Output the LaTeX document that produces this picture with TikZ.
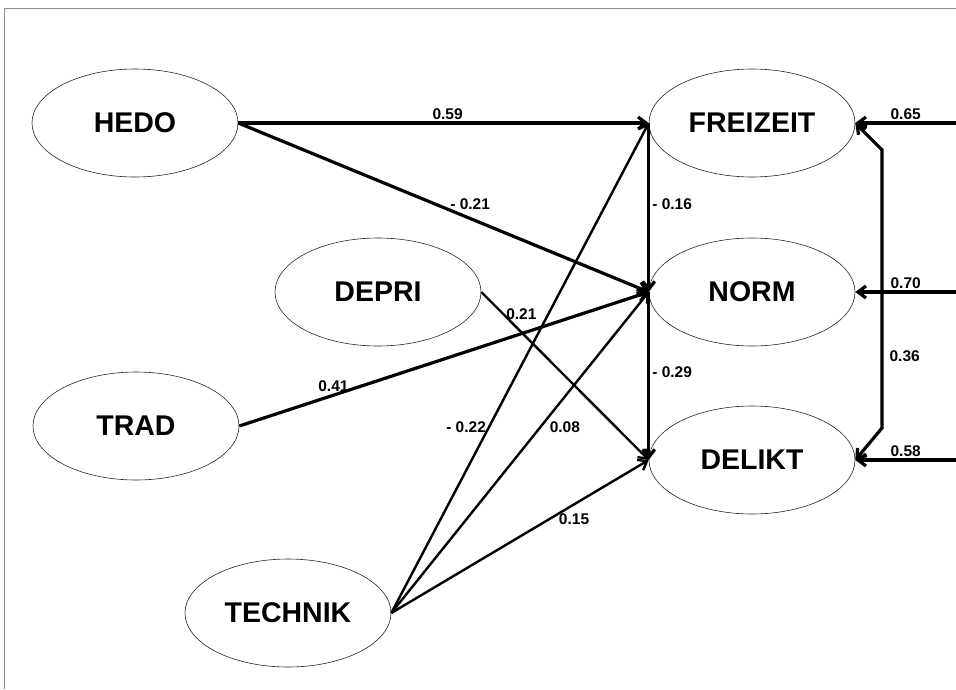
\documentclass[tikz,border=0pt]{standalone}
\usepackage{fontspec}
\setmainfont{Liberation Sans}
\usetikzlibrary{arrows,arrows.meta,shapes}

\begin{document}
\begin{tikzpicture}[x=1pt,y=-1pt,>={Straight Barb[length=8pt,width=12pt]}]
		\tikzstyle{factor}=[ellipse, draw=black!85, line width=0.6pt, minimum width=206pt, minimum height=108pt, inner sep=0pt, font=\fontsize{28.5}{30}\selectfont\bfseries]
		\tikzstyle{coef}=[font=\fontsize{15.5}{17}\selectfont\bfseries, inner sep=2pt]
		\tikzstyle{arrow}=[line width=3.2pt]
		\tikzstyle{arrow_thin}=[line width=2.4pt]

		\useasboundingbox (0,0) rectangle (956,689);
		\draw [black!45, line width=1pt] (4,689) -- (4,8) -- (956,8);

		% exogenous factors
		\node [factor] (HEDO) at (135,123) {HEDO};
		\node [factor] (DEPRI) at (378,292) {DEPRI};
		\node [factor] (TRAD) at (136,426) {TRAD};
		\node [factor] (TECHNIK) at (288,613) {TECHNIK};

		% endogenous factors
		\node [factor] (FREIZEIT) at (752,123) {FREIZEIT};
		\node [factor] (NORM) at (752,292) {NORM};
		\node [factor] (DELIKT) at (752,460) {DELIKT};

		\coordinate (e1) at (956,123);
		\coordinate (e2) at (956,292);
		\coordinate (e3) at (956,460);
		\coordinate (c1) at (882,150);
		\coordinate (c2) at (882,428);

	\path[->] (HEDO.east) edge [arrow] node [coef, above, pos=0.51] {0.59} (FREIZEIT.west);
	\path[->] (HEDO.east) edge [arrow] node [coef, above, pos=0.56, yshift=4pt, xshift=2pt] {- 0.21} (NORM.west);
	\path[->] (DEPRI.east) edge [arrow_thin] node [coef, right, pos=0.13] {0.21} (DELIKT.west);
	\path[->] (TRAD.east) edge [arrow] node [coef, above, pos=0.23] {0.41} (NORM.west);

	\path[->] (TECHNIK.east) edge [arrow_thin] node [coef, left, pos=0.38] {- 0.22} (FREIZEIT.west);
	\path[->] (TECHNIK.east) edge [arrow_thin] node [coef, right, pos=0.58, xshift=6pt] {0.08} (NORM.west);
	\path[->] (TECHNIK.east) edge [arrow_thin] node [coef, below, pos=0.71, yshift=-6pt] {0.15} (DELIKT.west);

	\path[->] (FREIZEIT.west) edge [arrow] node [coef, right, pos=0.48] {- 0.16} (NORM.west);
	\path[->] (NORM.west) edge [arrow] node [coef, right, pos=0.48] {- 0.29} (DELIKT.west);

	% residuals
	\path[->] (e1) edge [arrow] node [coef, above] {0.65} (FREIZEIT.east);
	\path[->] (e2) edge [arrow] node [coef, above] {0.70} (NORM.east);
	\path[->] (e3) edge [arrow] node [coef, above] {0.58} (DELIKT.east);

	\draw [<->, arrow] (FREIZEIT.east) -- (c1) -- node [coef, right, pos=0.74, xshift=4pt] {0.36} (c2) -- (DELIKT.east);

	\end{tikzpicture}
\end{document}
